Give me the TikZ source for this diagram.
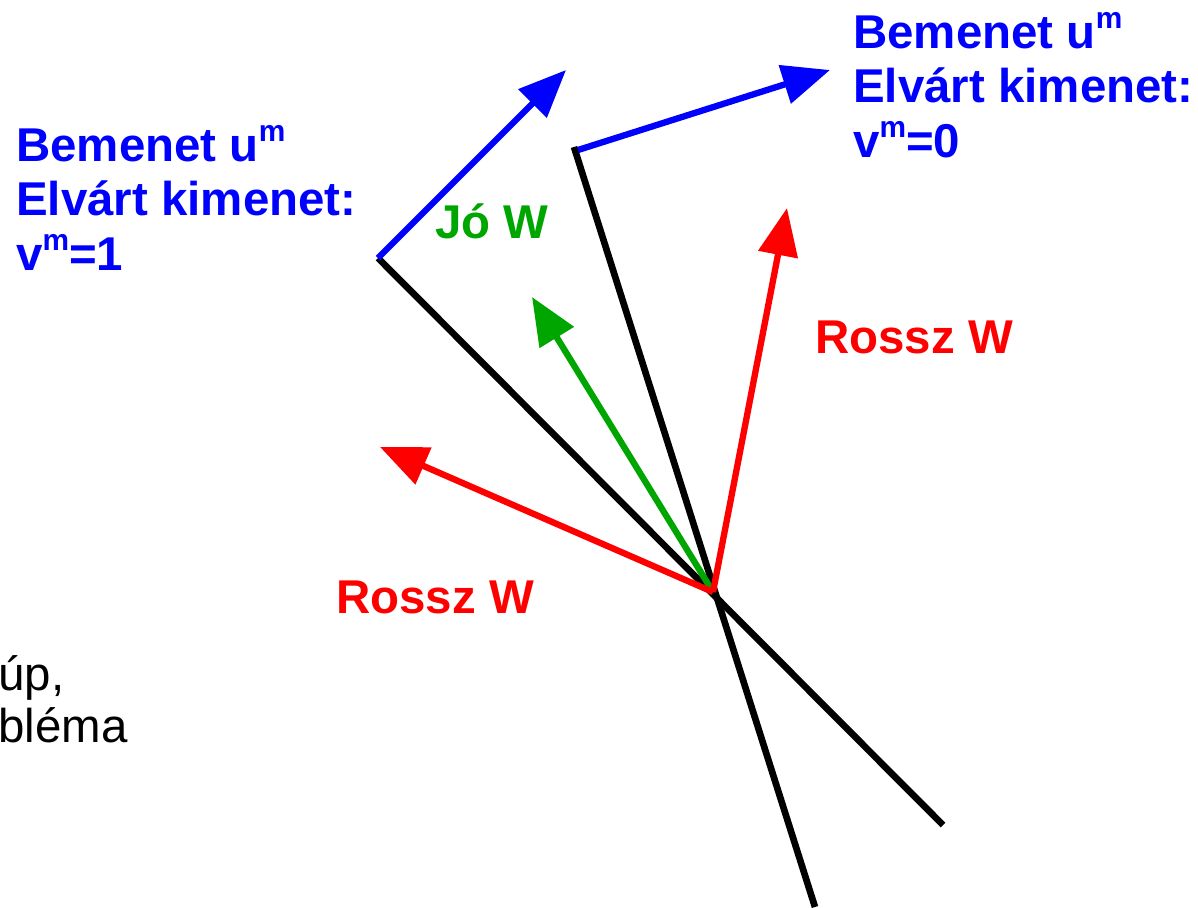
\documentclass[tikz,border=0pt]{standalone}
\usepackage{fontspec}
\setmainfont{Liberation Sans}
\usetikzlibrary{arrows.meta}
\definecolor{jogreen}{RGB}{0,166,0}
\newcommand{\upidx}[1]{\raisebox{0.42em}{\fontsize{17}{17}\selectfont #1}}
\tikzset{
  vec/.style={line width=3.6pt,-{Triangle[length=0.95cm,width=0.78cm]}},
  sep/.style={line width=3.8pt,black},
  lbl/.style={anchor=base west,inner sep=0pt,align=left,font=\fontsize{27}{31}\selectfont\bfseries}
}
\begin{document}
\begin{tikzpicture}[x=0.02cm,y=-0.02cm]
\useasboundingbox (0,0) rectangle (1198,907);

\coordinate (O) at (713,592);
\coordinate (A) at (378,258);
\coordinate (A2) at (943,825);
\coordinate (B) at (574,147);
\coordinate (B2) at (815,907);

% elvalaszto egyenesek
\draw[sep] (A)--(A2);
\draw[sep] (B)--(B2);

% bemenetek
\coordinate (uleft) at (566,70);
\coordinate (uright) at (830,70);
\draw[vec,blue] (A)--(uleft);
\draw[vec,blue] (578,150) coordinate (Bs)--(uright);

% sulyvektorok
\coordinate (wgood) at (532,297);
\coordinate (wbad1) at (380,447);
\coordinate (wbad2) at (787,208);
\draw[vec,jogreen] (O)--(wgood);
\draw[vec,red] (O)--(wbad1);
\draw[vec,red] (O)--(wbad2);

% feliratok (base = utolso sor)
\node[lbl,blue] (inR) at (853,157) {Bemenet u\upidx{m}\\Elvárt kimenet:\\v\upidx{m}=0};
\node[lbl,blue] (inL) at (16,270) {Bemenet u\upidx{m}\\Elvárt kimenet:\\v\upidx{m}=1};
\node[lbl,jogreen] (good) at (435,238) {Jó W};
\node[lbl,red] (bad2) at (815,353) {Rossz W};
\node[lbl,red] (bad1) at (336,613) {Rossz W};
\node[anchor=base west,inner sep=0pt,align=left,font=\fontsize{27}{29.5}\selectfont] (note) at (-2,742) {úp,\\bléma};

\end{tikzpicture}
\end{document}
